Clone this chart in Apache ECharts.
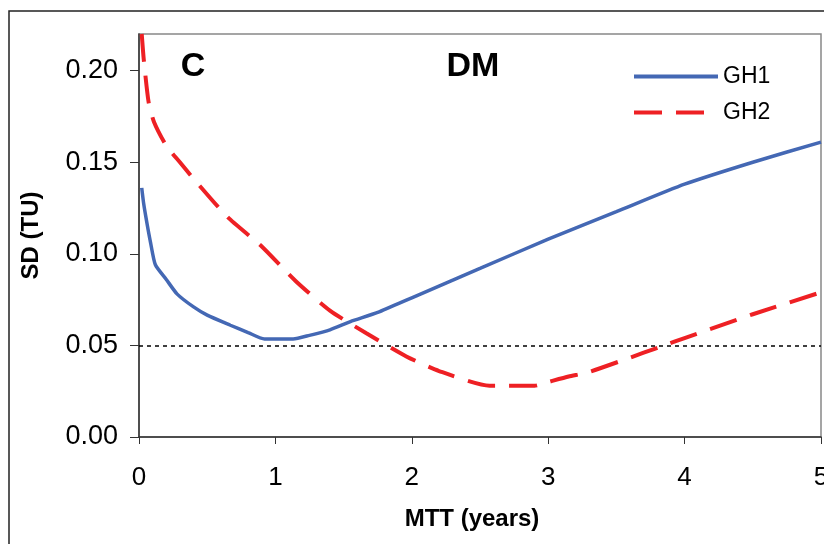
<!DOCTYPE html>
<html>
<head>
<meta charset="utf-8">
<script src="https://cdn.jsdelivr.net/npm/echarts@6/dist/echarts.min.js"></script>
<style>
  html, body { margin: 0; padding: 0; background: #fff; }
  #chart { width: 824px; height: 544px; }
</style>
</head>
<body>
<div id="chart"></div>
<script>
// GH1 (solid blue)
var gh1X = [0.02, 0.035, 0.06, 0.085, 0.12, 0.2, 0.28, 0.4, 0.5, 0.67, 0.8, 0.92, 1.13, 1.25, 1.4, 1.55, 1.75, 2.0, 2.5, 3.0, 3.5, 4.0, 4.5, 5.0];
var gh1Y = [0.136, 0.127, 0.116, 0.106, 0.094, 0.086, 0.078, 0.071, 0.0665, 0.061, 0.057, 0.0535, 0.0535, 0.0555, 0.0585, 0.063, 0.068, 0.076, 0.092, 0.108, 0.123, 0.138, 0.150, 0.161];
// GH2 (dashed red)
var gh2X = [0.02, 0.035, 0.07, 0.11, 0.2, 0.3, 0.4, 0.65, 0.9, 1.15, 1.4, 1.67, 1.96, 2.2, 2.57, 2.9, 3.0, 3.15, 3.3, 3.7, 3.85, 4.0, 4.5, 5.0];
var gh2Y = [0.22, 0.206, 0.183, 0.172, 0.159, 0.150, 0.141, 0.120, 0.104, 0.085, 0.069, 0.0565, 0.044, 0.036, 0.028, 0.028, 0.030, 0.033, 0.0355, 0.046, 0.050, 0.054, 0.067, 0.079];
var refLine = 0.05;
var xTicks = [0, 1, 2, 3, 4, 5];
var yTicks = [0, 0.05, 0.10, 0.15, 0.20];

function zip(xs, ys) {
  return xs.map(function (x, i) { return [x, ys[i]]; });
}

var font = '"Liberation Sans", Arial, sans-serif';
var chart = echarts.init(document.getElementById('chart'));

chart.setOption({
  animation: false,
  textStyle: { fontFamily: font, color: '#000' },
  graphic: [
    { type: 'rect', shape: { x: 9, y: 11, width: 900, height: 600 },
      style: { fill: 'none', stroke: '#222', lineWidth: 1.5 }, z: -1 },
    { type: 'text', x: 193, y: 67,
      style: { text: 'C', font: 'bold 34px ' + font, fill: '#000', textAlign: 'center', textVerticalAlign: 'middle' } },
    { type: 'text', x: 473, y: 67,
      style: { text: 'DM', font: 'bold 34px ' + font, fill: '#000', textAlign: 'center', textVerticalAlign: 'middle' } }
  ],
  grid: {
    left: 139, right: 3, top: 34, bottom: 107,
    outerBoundsMode: 'none', containLabel: false,
    show: true, borderColor: '#888', borderWidth: 1.5
  },
  legend: {
    orient: 'vertical',
    left: 632, top: 65, padding: 0,
    itemWidth: 84, itemHeight: 20, itemGap: 13,
    itemStyle: { opacity: 0 },
    lineStyle: { width: 4 },
    textStyle: { fontSize: 23, color: '#000', fontFamily: font },
    data: ['GH1', 'GH2']
  },
  xAxis: {
    type: 'value', min: 0, max: 5, interval: 1,
    name: 'MTT (years)', nameLocation: 'middle', nameGap: 70,
    nameTextStyle: { fontSize: 24, fontWeight: 'bold', color: '#000', padding: [0, 16, 0, 0] },
    axisLine: { lineStyle: { color: '#333', width: 1.5 } },
    axisTick: { show: true, length: 7, lineStyle: { color: '#333', width: 1 } },
    axisLabel: { fontSize: 26, color: '#000', margin: 28,
      formatter: function (v) { return xTicks.indexOf(v) >= 0 ? String(v) : ''; } },
    splitLine: { show: false }
  },
  yAxis: {
    type: 'value', min: 0, max: 0.22, interval: 0.05,
    name: 'SD (TU)', nameLocation: 'middle', nameGap: 96,
    nameTextStyle: { fontSize: 24, fontWeight: 'bold', color: '#000' },
    axisLine: { show: true, lineStyle: { color: '#333', width: 1.5 } },
    axisTick: { show: true, length: 9, lineStyle: { color: '#333', width: 1 } },
    axisLabel: { fontSize: 27, color: '#000', margin: 21, showMaxLabel: false,
      formatter: function (v) {
        var hit = yTicks.some(function (t) { return Math.abs(t - v) < 1e-9; });
        return hit ? v.toFixed(2) : '';
      } },
    splitLine: { show: false }
  },
  series: [
    {
      name: 'GH1', type: 'line', data: zip(gh1X, gh1Y),
      showSymbol: false, symbol: 'none', smooth: 0.2, clip: true,
      lineStyle: { color: '#4468B4', width: 3.5 },
      itemStyle: { color: '#4468B4' },
      markLine: {
        silent: true, symbol: 'none', label: { show: false },
        lineStyle: { color: '#000', width: 1.5, type: [4, 4] },
        data: [{ yAxis: refLine }]
      }
    },
    {
      name: 'GH2', type: 'line', data: zip(gh2X, gh2Y),
      showSymbol: false, symbol: 'none', smooth: 0.2, clip: true,
      lineStyle: { color: '#EE2024', width: 4, type: [28, 14] },
      itemStyle: { color: '#EE2024' }
    }
  ]
});
</script>
</body>
</html>
